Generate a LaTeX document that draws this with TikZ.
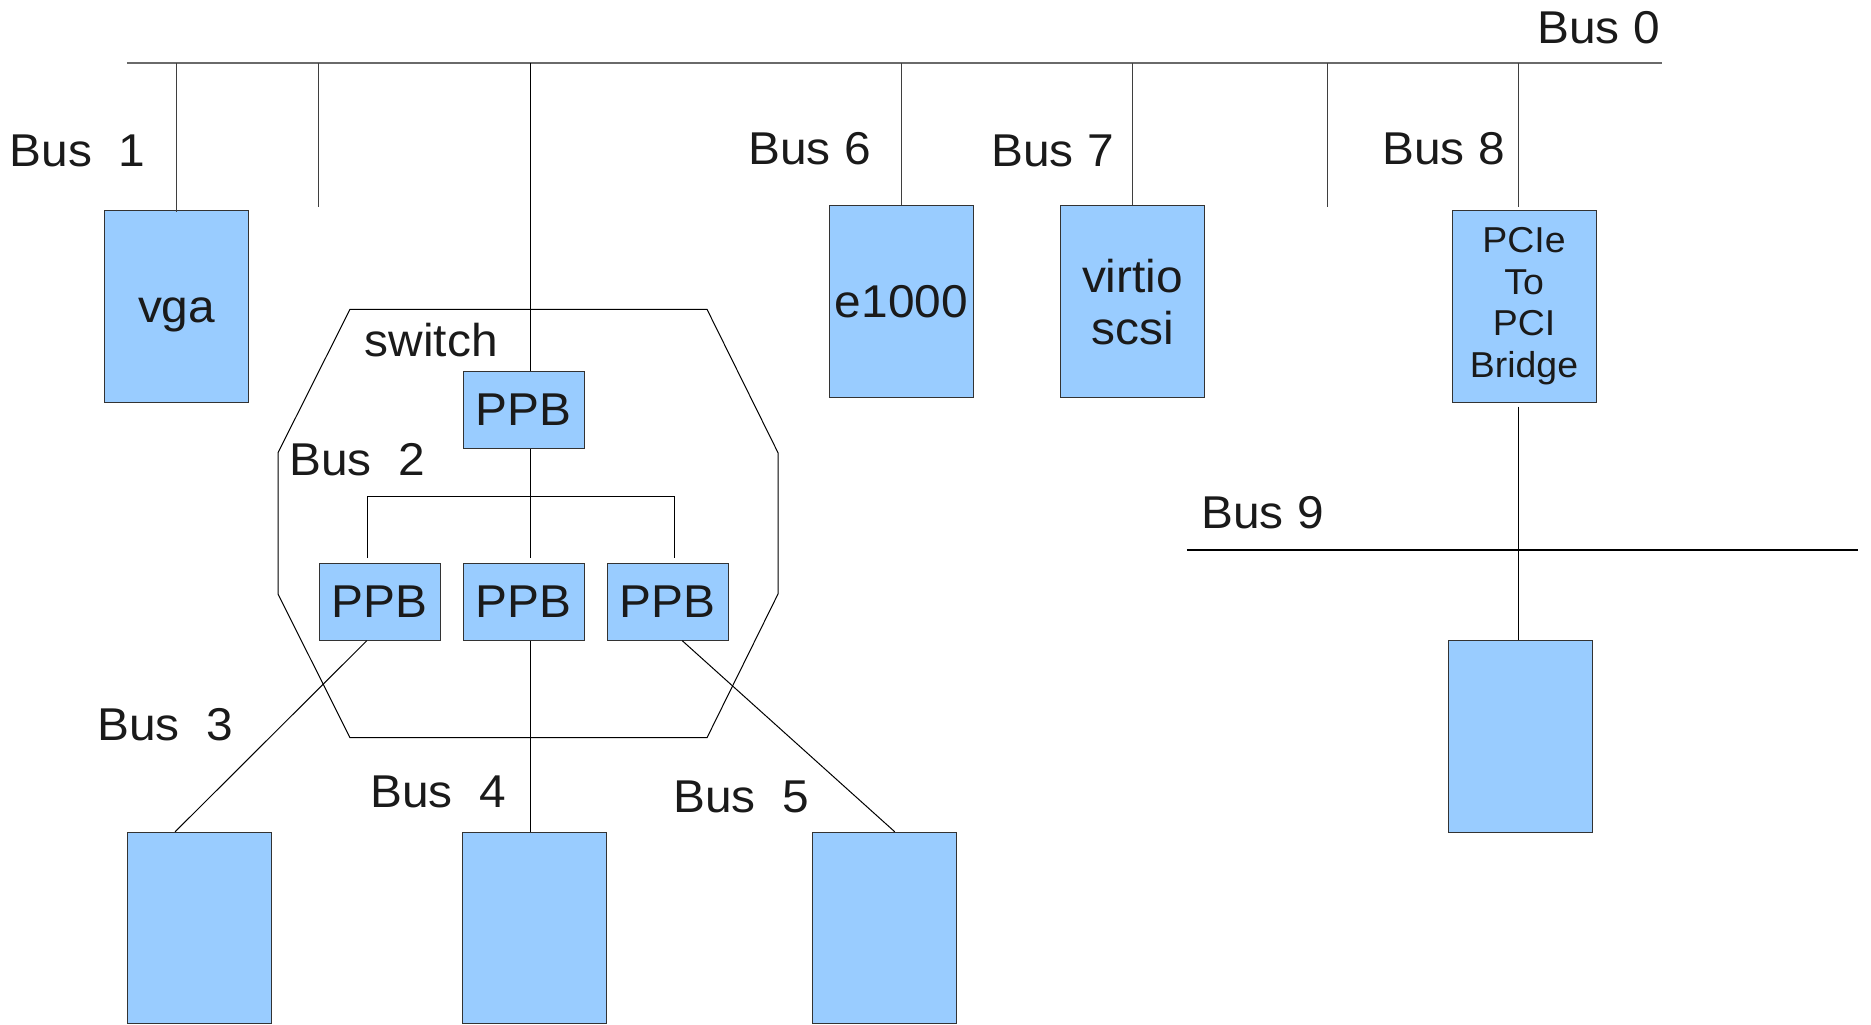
\documentclass[tikz,border=0pt]{standalone}
\usepackage{fontspec}
\setmainfont[FakeStretch=1.04]{Liberation Sans}
\usetikzlibrary{calc}
\definecolor{boxfill}{HTML}{99CCFF}
\definecolor{boxline}{HTML}{333333}
\definecolor{busgray}{HTML}{6A6A6A}
\definecolor{ink}{HTML}{1A1A1A}
\begin{document}
\begin{tikzpicture}[x=0.5pt,y=-0.5pt,
  dev/.style={draw=boxline, fill=boxfill, line width=0.5pt,
    minimum width=72pt, minimum height=96pt, inner sep=0pt,
    font=\fontsize{23}{26}\selectfont, text=ink, align=center},
  ppb/.style={dev, minimum width=60.5pt, minimum height=38.5pt},
  capline/.style={text height=16.5pt, text depth=0pt},
  buslbl/.style={anchor=base west, inner sep=0pt,
    font=\fontsize{23}{27}\selectfont, text=ink},
  busline/.style={line width=1pt, busgray},
  drop/.style={line width=0.5pt, busgray!60!black},
  wire/.style={line width=0.5pt, black},
  switchwall/.style={line width=0.5pt, black, line join=miter}]
\useasboundingbox (0,0) rectangle (1871,1024);

% devices on bus 0
\node[dev, capline] (vga) at (176.6,306.2) {vga};
\node[dev] (e1000) at (901.5,301.7) {e1000};
\node[dev] (virtio) at (1132.5,301.7) {virtio\\scsi};
\node[dev, font=\fontsize{18}{20.8}\selectfont] (bridge) at (1524,306) {PCIe\\To\\PCI\\Bridge};

% devices behind the switch and the bridge
\node[dev, minimum height=95.5pt] (dev3) at (199.3,927.8) {};
\node[dev, minimum height=95.5pt] (dev4) at (534.8,927.8) {};
\node[dev, minimum height=95.5pt] (dev5) at (884.5,927.8) {};
\node[dev] (dev9) at (1520,736.2) {};

% switch: upstream and downstream ports
\draw[switchwall] (350,309.3) -- (707,309.3) -- (778,452.7) -- (778,594)
  -- (707,737.7) -- (350,737.7) -- (278,594) -- (278,452.7) -- cycle;
\node[ppb] (ppb0) at (523.7,409.5) {PPB};
\node[ppb] (ppb3) at (379.5,601.7) {PPB};
\node[ppb] (ppb4) at (523.7,601.7) {PPB};
\node[ppb] (ppb5) at (667.5,601.7) {PPB};

% bus 0
\coordinate (b0L) at (126.8,63.3);
\coordinate (b0R) at (1662,63.3);
\draw[busline] (b0L) -- (b0R);
\coordinate (stubA) at (318.75,207.3);
\coordinate (stubB) at (1327,207.3);
\draw[drop] (vga.north |- b0L) -- ([yshift=-1.3pt]vga.north);
\draw[drop] (stubA |- b0L) -- (stubA);
\draw[drop] (stubB |- b0L) -- (stubB);
\draw[drop] (e1000.north |- b0L) -- (e1000.north);
\draw[drop] (virtio.north |- b0L) -- (virtio.north);
\coordinate (brT) at ($(bridge.north west)!0.465!(bridge.north east)$);
\coordinate (brB) at ($(bridge.south west)!0.465!(bridge.south east)$);
\draw[drop] (brT |- b0L) -- ([yshift=1.5pt]brT);
\coordinate (swT) at ($(ppb0.north west)!0.555!(ppb0.north east)$);
\coordinate (swB) at ($(ppb0.south west)!0.555!(ppb0.south east)$);
\draw[wire] (swT |- b0L) -- (swT);

% bus 2 inside the switch
\coordinate (b2) at (530.4,496);
\coordinate (p3T) at ($(ppb3.north west)!0.398!(ppb3.north east)$);
\coordinate (p5T) at ($(ppb5.north west)!0.556!(ppb5.north east)$);
\draw[wire] (swB) -- ([yshift=2.3pt]swB |- ppb4.north);
\draw[wire] ([yshift=2.3pt]p3T) -- (p3T |- b2) -- (p5T |- b2) -- ([yshift=2.3pt]p5T);

% buses 3, 4, 5
\coordinate (p3B) at ($(ppb3.south west)!0.396!(ppb3.south east)$);
\coordinate (p4B) at ($(ppb4.south west)!0.555!(ppb4.south east)$);
\coordinate (p5B) at ($(ppb5.south west)!0.621!(ppb5.south east)$);
\draw[wire] (p3B) -- ($(dev3.north west)!0.333!(dev3.north east)$);
\draw[wire] (p4B) -- (p4B |- dev4.north);
\draw[wire] (p5B) -- ($(dev5.north west)!0.571!(dev5.north east)$);

% bus 9 behind the bridge
\coordinate (b9L) at (1186.8,550);
\coordinate (b9R) at (1858,550);
\draw[line width=0.75pt, black] (b9L) -- (b9R);
\draw[wire] ([yshift=-2pt]brB) -- (brB |- dev9.north);

% labels
\node[buslbl] (l0) at (1537,43.3) {Bus 0};
\node[buslbl] (l1) at (9.5,166.7) {Bus\ \ 1};
\node[buslbl] (l2) at (289,475) {Bus\ \ 2};
\node[buslbl] (l3) at (97,740) {Bus\ \ 3};
\node[buslbl] (l4) at (370,807.7) {Bus\ \ 4};
\node[buslbl] (l5) at (673,812.3) {Bus\ \ 5};
\node[buslbl] (l6) at (748,164.3) {Bus 6};
\node[buslbl] (l7) at (991,166.7) {Bus 7};
\node[buslbl] (l8) at (1382,164.3) {Bus 8};
\node[buslbl] (l9) at (1201,528.3) {Bus 9};
\node[buslbl] (lsw) at (364.5,356.5) {switch};
\end{tikzpicture}
\end{document}
